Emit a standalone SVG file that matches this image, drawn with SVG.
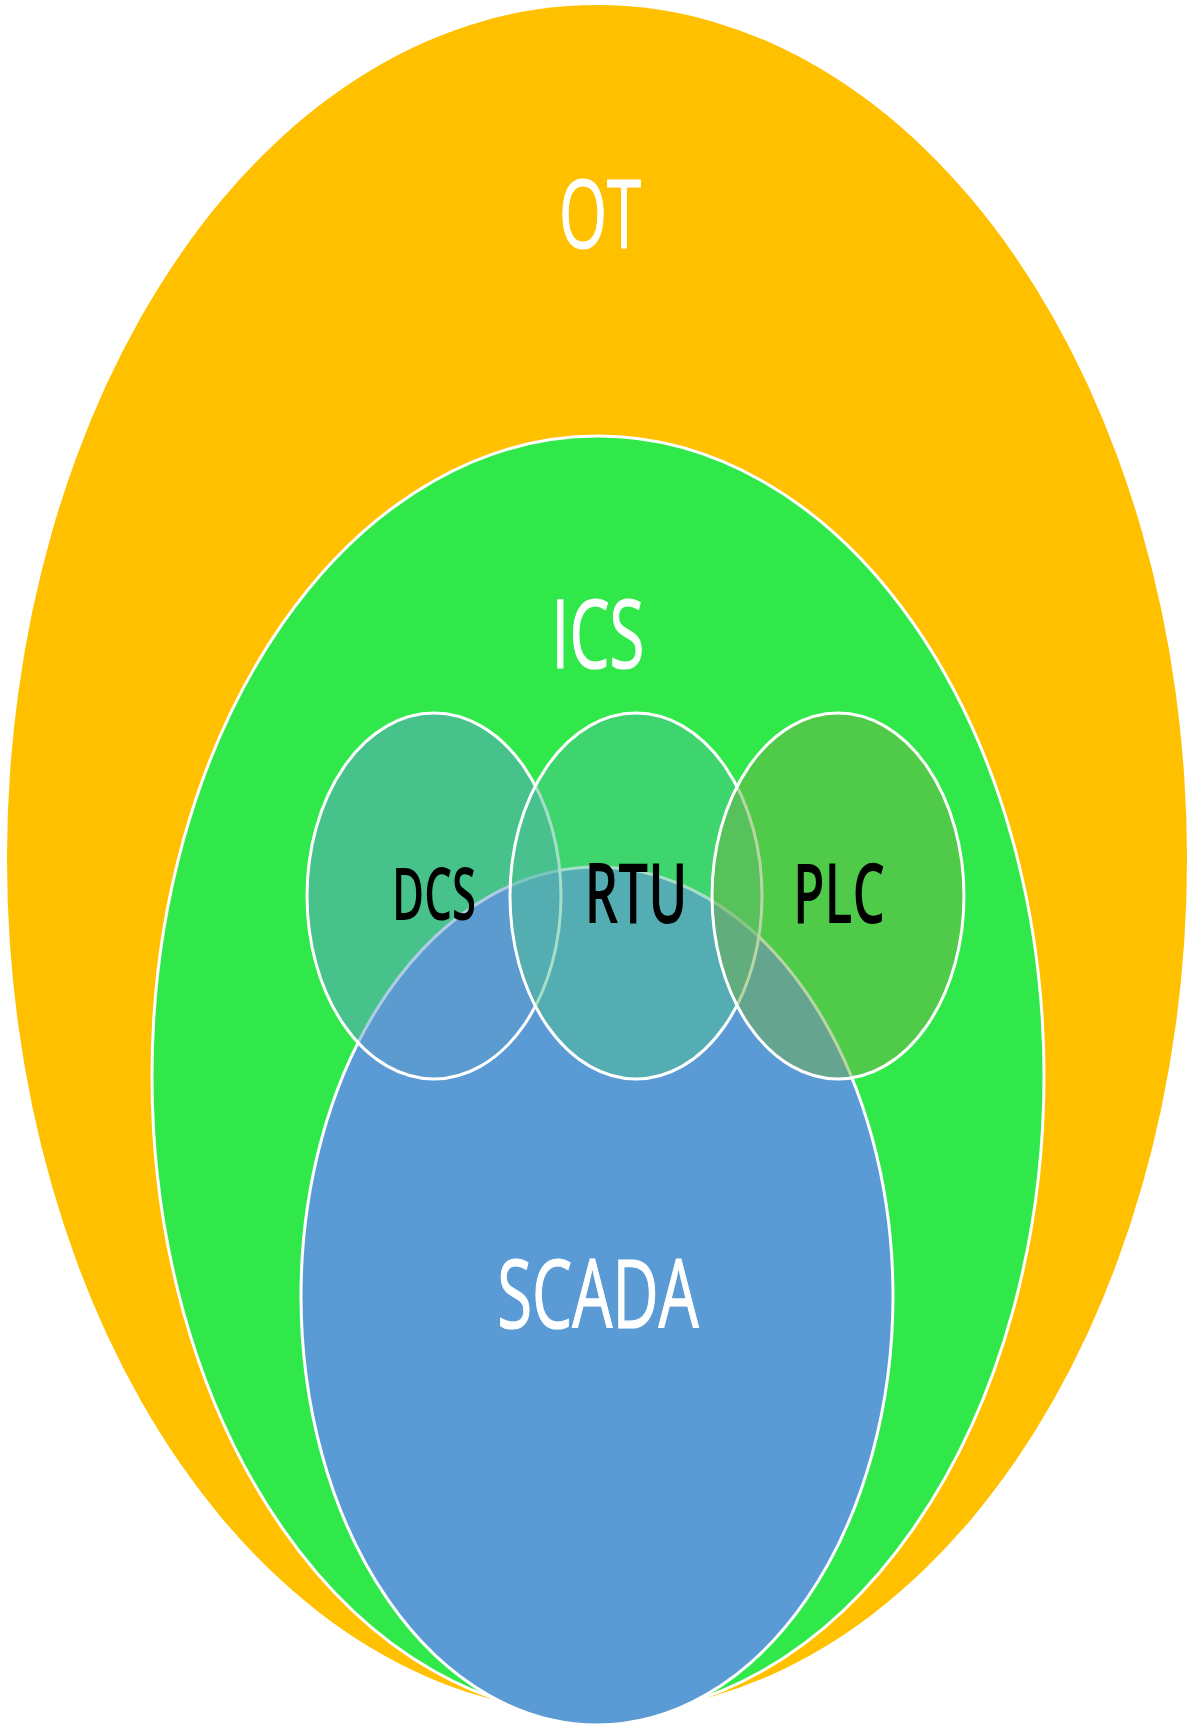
<svg xmlns="http://www.w3.org/2000/svg" width="1191" height="1732" viewBox="0 0 1191 1732">
<style>
.lbl{font-family:"Open Sans","Noto Sans","Liberation Sans",sans-serif;text-anchor:middle}
.big{font-size:95px;fill:#ffffff;stroke:#ffffff;stroke-width:1.2}
.sub{fill:#000000;font-weight:600}
.ring{stroke:#ffffff;stroke-width:3}
</style>
<rect width="1191" height="1732" fill="#ffffff"/>
<g id="OT">
<ellipse cx="597" cy="859" rx="590" ry="854" fill="#FFC000"/>
<text class="lbl big" transform="translate(600,248) scale(0.65,1)">OT</text>
</g>
<g id="ICS">
<ellipse class="ring" cx="598" cy="1076" rx="446" ry="640" fill="#31E84A"/>
<text class="lbl big" transform="translate(598,668) scale(0.67,1)">ICS</text>
</g>
<g id="SCADA">
<ellipse class="ring" cx="597" cy="1296" rx="296" ry="429" fill="#5B9BD5"/>
<text class="lbl big" transform="translate(598,1328) scale(0.67,1)">SCADA</text>
</g>
<g id="DCS">
<ellipse class="ring" cx="434" cy="896" rx="127" ry="183" fill="#5D9CCC" fill-opacity="0.5"/>
<text class="lbl sub" font-size="73" transform="translate(434,920) scale(0.6,1)">DCS</text>
</g>
<g id="RTU">
<ellipse class="ring" cx="636" cy="896" rx="126" ry="183" fill="#4BC092" fill-opacity="0.5"/>
<text class="lbl sub" font-size="84" transform="translate(636,923) scale(0.63,1)">RTU</text>
</g>
<g id="PLC">
<ellipse class="ring" cx="838" cy="896" rx="126" ry="183" fill="#70AD47" fill-opacity="0.5"/>
<text class="lbl sub" font-size="84" transform="translate(839,923) scale(0.61,1)">PLC</text>
</g>
<g id="connectors"></g>
</svg>
